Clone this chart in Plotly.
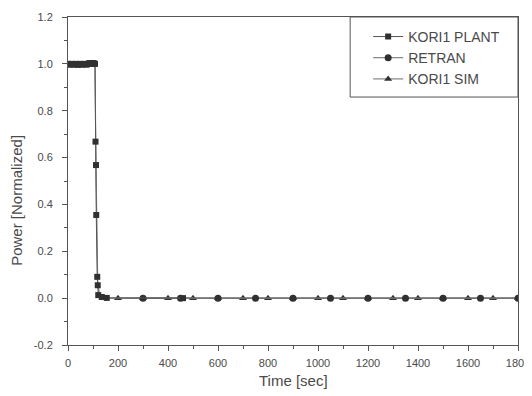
import plotly.graph_objects as go

# ---- data ----
plant_t = [0, 4, 8, 12, 16, 20, 24, 28, 32, 36, 40, 44, 48, 52, 56, 60, 64, 68, 72, 76,
           80, 84, 88, 92, 96, 100, 104, 108, 110, 112, 113, 117, 119, 121, 135, 155, 460]
plant_p = [1.0, 0.998, 0.997, 0.999, 1.0, 0.998, 0.997, 0.999, 1.0, 0.998, 0.996, 0.999,
           1.0, 0.998, 0.997, 0.999, 1.0, 0.999, 0.997, 0.998, 1.0, 1.002, 1.003, 1.001,
           1.002, 1.003, 1.002, 1.0, 0.668, 0.568, 0.355, 0.091, 0.055, 0.013, 0.005, 0.001, 0.0]

retran_t = [0, 108, 111, 114, 118, 125, 150, 300, 450, 600, 750, 900, 1050, 1200, 1350, 1500, 1650, 1800]
retran_p = [1.0, 1.0, 0.62, 0.30, 0.08, 0.01, 0.0, 0.0, 0.0, 0.0, 0.0, 0.0, 0.0, 0.0, 0.0, 0.0, 0.0, 0.0]

sim_t = [0, 108, 112, 115, 119, 127, 150, 200, 300, 400, 500, 600, 700, 800, 900, 1000,
         1100, 1200, 1300, 1400, 1500, 1600, 1700, 1800]
sim_p = [1.0, 1.0, 0.60, 0.28, 0.07, 0.008, 0.0, 0.0, 0.0, 0.0, 0.0, 0.0, 0.0, 0.0, 0.0, 0.0,
         0.0, 0.0, 0.0, 0.0, 0.0, 0.0, 0.0, 0.0]

x_ticks = [0, 200, 400, 600, 800, 1000, 1200, 1400, 1600, 1800]
y_ticks = [-0.2, 0.0, 0.2, 0.4, 0.6, 0.8, 1.0, 1.2]
y_tick_labels = ["-0.2", "0.0", "0.2", "0.4", "0.6", "0.8", "1.0", "1.2"]

# first index where the sparse markers begin
retran_mark_from = 7
sim_mark_from = 7

FONT = "Liberation Sans, Arial, sans-serif"
TXT = "#4a4a4a"
MK = "#303030"

fig = go.Figure()

# SIM (drawn first so circles sit on top)
fig.add_trace(go.Scatter(x=sim_t, y=sim_p, mode="lines", line=dict(color="#8a8a8a", width=1),
                         showlegend=False, hoverinfo="skip"))
fig.add_trace(go.Scatter(x=sim_t[sim_mark_from:], y=sim_p[sim_mark_from:], mode="lines+markers",
                         name="KORI1 SIM", line=dict(color="#6a6a6a", width=1),
                         marker=dict(symbol="triangle-up", size=7, color=MK)))
# RETRAN
fig.add_trace(go.Scatter(x=retran_t, y=retran_p, mode="lines", line=dict(color="#8a8a8a", width=1),
                         showlegend=False, hoverinfo="skip"))
fig.add_trace(go.Scatter(x=retran_t[retran_mark_from:], y=retran_p[retran_mark_from:],
                         mode="lines+markers", name="RETRAN", line=dict(color="#6a6a6a", width=1),
                         marker=dict(symbol="circle", size=7, color=MK)))
# PLANT
fig.add_trace(go.Scatter(x=plant_t, y=plant_p, mode="lines+markers", name="KORI1 PLANT",
                         line=dict(color="#555555", width=1),
                         marker=dict(symbol="square", size=6, color=MK)))

# the page body adds an 8 px margin, so the figure is sized to fit the 532x396 window
fig.update_layout(
    width=524, height=388,
    margin=dict(l=60, r=14, t=9, b=51, autoexpand=False),
    paper_bgcolor="white", plot_bgcolor="white",
    font=dict(family=FONT, color=TXT, size=11),
    legend=dict(x=0.667, xanchor="left", y=0.988, yanchor="top",
                traceorder="reversed", bgcolor="rgba(0,0,0,0)", borderwidth=0,
                font=dict(size=14, color=TXT, family=FONT)),
    shapes=[dict(type="rect", xref="paper", yref="paper", x0=0.627, x1=1.0, y0=0.756, y1=1.0,
                 line=dict(color="#555555", width=1))],
    annotations=[
        dict(text="Power [Normalized]", xref="paper", yref="paper", x=-0.113, y=0.44,
             textangle=-90, showarrow=False, font=dict(size=15, color=TXT, family=FONT),
             xanchor="center", yanchor="middle"),
        dict(text="Time [sec]", xref="paper", yref="paper", x=0.5, y=-0.107,
             showarrow=False, font=dict(size=15, color=TXT, family=FONT),
             xanchor="center", yanchor="middle"),
    ],
)

fig.update_xaxes(range=[0, 1800], tickvals=x_ticks, ticktext=[str(v) for v in x_ticks],
                 automargin=False,
                 showgrid=False, zeroline=False, showline=True, linecolor="#555555", linewidth=1,
                 mirror=True, ticks="outside", ticklen=5, tickcolor="#555555",
                 ticklabelstandoff=3,
                 minor=dict(dtick=100, ticks="outside", ticklen=3, tickcolor="#555555"),
                 tickfont=dict(size=11, color=TXT))
fig.update_yaxes(range=[-0.2, 1.2], tickvals=y_ticks, ticktext=y_tick_labels,
                 automargin=False,
                 showgrid=False, zeroline=False, showline=True, linecolor="#555555", linewidth=1,
                 mirror=True, ticks="outside", ticklen=5, tickcolor="#555555",
                 ticklabelstandoff=7,
                 minor=dict(dtick=0.1, ticks="outside", ticklen=3, tickcolor="#555555"),
                 tickfont=dict(size=11, color=TXT))

fig.write_html("out.html")
